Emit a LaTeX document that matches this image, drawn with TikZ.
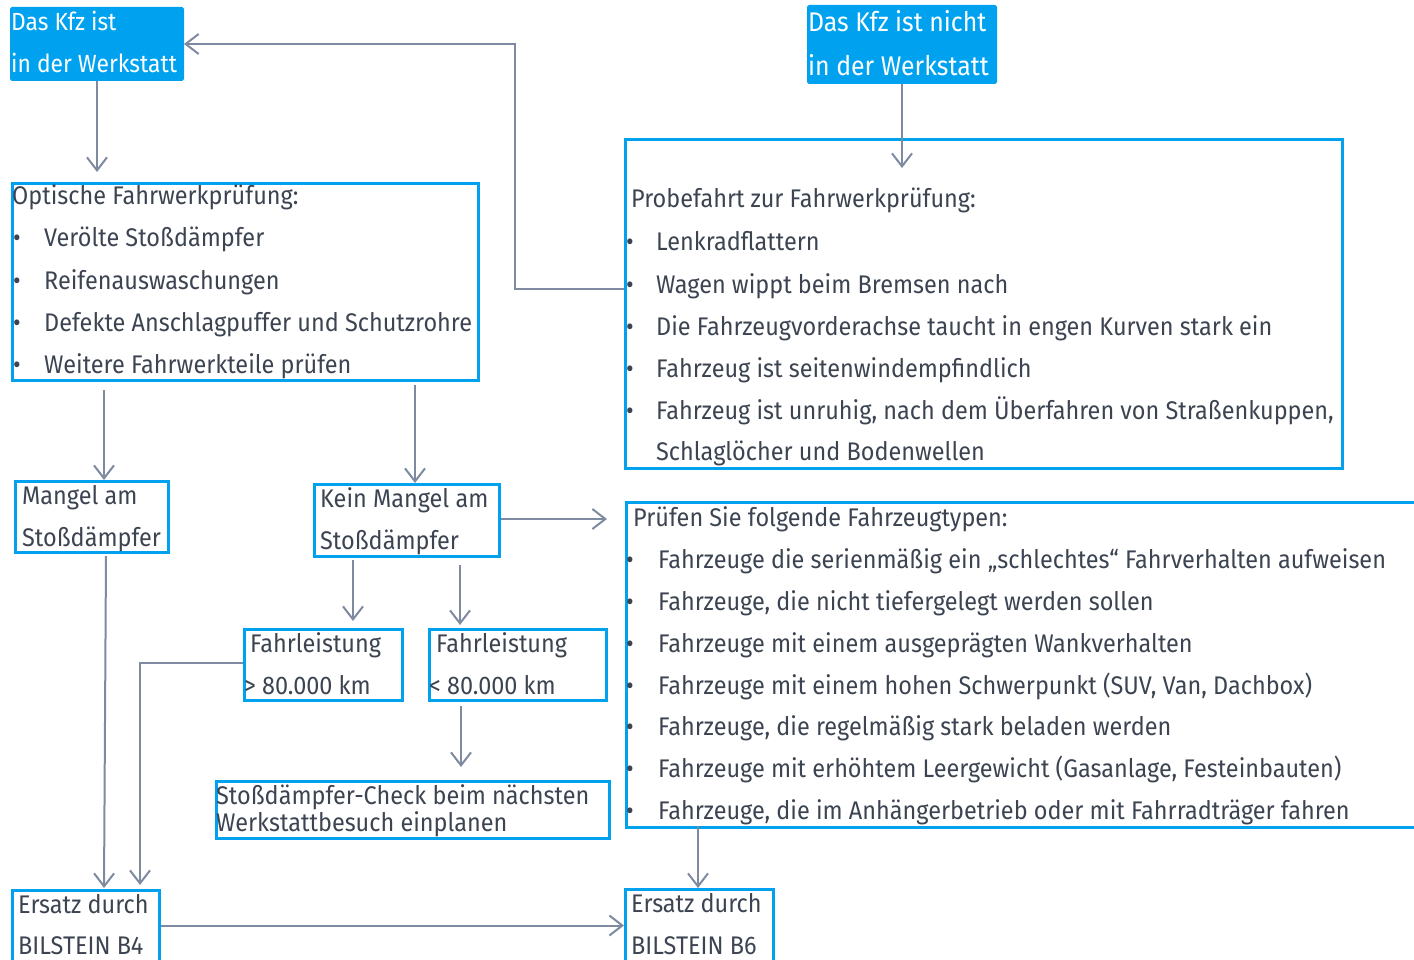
\documentclass[tikz,border=0pt]{standalone}
\usepackage{fontspec}
\setmainfont{Fira Sans}[FakeStretch=0.92]
\usetikzlibrary{arrows.meta,calc}
\definecolor{bblue}{RGB}{0,162,240}
\definecolor{txt}{RGB}{60,68,82}
\definecolor{arrc}{RGB}{125,138,160}
\begin{document}
\begin{tikzpicture}[x=1pt,y=-1pt,
 box/.style={draw=bblue,line width=3pt,inner sep=0pt,anchor=north west},
 fbox/.style={fill=bblue,draw=bblue,line width=1pt,rounded corners=1.5pt,inner sep=0pt,anchor=north west},
 t/.style={anchor=base west,inner sep=0pt,text=txt,font=\fontsize{25.5}{30}\selectfont},
 wt/.style={t,text=white,font=\fontsize{24.8}{30}\selectfont},
 wtl/.style={t,text=white,font=\fontsize{27}{30}\selectfont},
 conn/.style={draw=arrc,line width=2pt,-{Straight Barb[length=13pt,width=20pt,line width=2pt]}}]
\path[use as bounding box] (0,0) rectangle (1414,960);
\clip (0,0) rectangle (1414,960);
% boxes
\node[fbox,minimum width=173pt,minimum height=73pt] (kfzin) at (10,7) {};
\node[fbox,minimum width=189pt,minimum height=78pt] (kfzout) at (807,5) {};
\node[box,minimum width=466pt,minimum height=197pt] (opt) at (11,182) {};
\node[box,minimum width=717pt,minimum height=329pt] (probe) at (624,138) {};
\node[box,minimum width=153pt,minimum height=71pt] (mangel) at (14,480) {};
\node[box,minimum width=185pt,minimum height=72pt] (kein) at (313,483) {};
\node[box,minimum width=820pt,minimum height=325pt] (pruef) at (625,501) {};
\node[box,minimum width=158pt,minimum height=71pt] (fgt) at (243,628) {};
\node[box,minimum width=177pt,minimum height=71pt] (flt) at (428,628) {};
\node[box,minimum width=393pt,minimum height=57pt] (check) at (215,780) {};
\node[box,minimum width=147pt,minimum height=90pt] (b4) at (11,889) {};
\node[box,minimum width=148pt,minimum height=90pt] (b6) at (624,888) {};
% texts
\node[wt] (t1a) at (11,31) {Das Kfz ist};
\node[wt] (t1b) at (11,73) {in der Werkstatt};
\node[wtl] (t2a) at (808,32) {Das Kfz ist nicht};
\node[wtl] (t2b) at (808,76) {in der Werkstatt};
\node[t] (o0) at (12,205) {Optische Fahrwerkprüfung:};
\foreach \y/\s [count=\i] in {247/Verölte Stoßdämpfer,289/Reifenauswaschungen,331/Defekte Anschlagpuffer und Schutzrohre,373/Weitere Fahrwerkteile prüfen}{
  \node[t] (ob\i) at (13,\y) {•};
  \node[t] (o\i) at (44,\y) {\s};
}
\node[t] (p0) at (631,208) {Probefahrt zur Fahrwerkprüfung:};
\foreach \y/\s [count=\i] in {251/Lenkradflattern,293/Wagen wippt beim Bremsen nach,335/Die Fahrzeugvorderachse taucht in engen Kurven stark ein,377/Fahrzeug ist seitenwindempfindlich,419/{Fahrzeug ist unruhig, nach dem Überfahren von Straßenkuppen,}}{
  \node[t] (pb\i) at (626,\y) {•};
  \node[t] (p\i) at (656,\y) {\s};
}
\node[t] (p6) at (656,460) {Schlaglöcher und Bodenwellen};
\node[t] (m1) at (22,504) {Mangel am};
\node[t] (m2) at (22,546) {Stoßdämpfer};
\node[t] (k1) at (320,507) {Kein Mangel am};
\node[t] (k2) at (320,549) {Stoßdämpfer};
\node[t] (q0) at (633,526) {Prüfen Sie folgende Fahrzeugtypen:};
\foreach \y/\s [count=\i] in {568/{Fahrzeuge die serienmäßig ein „schlechtes“ Fahrverhalten aufweisen},610/{Fahrzeuge, die nicht tiefergelegt werden sollen},652/Fahrzeuge mit einem ausgeprägten Wankverhalten,694/{Fahrzeuge mit einem hohen Schwerpunkt (SUV, Van, Dachbox)},735/{Fahrzeuge, die regelmäßig stark beladen werden},777/{Fahrzeuge mit erhöhtem Leergewicht (Gasanlage, Festeinbauten)},819/{Fahrzeuge, die im Anhängerbetrieb oder mit Fahrradträger fahren}}{
  \node[t] (qb\i) at (626,\y) {•};
  \node[t] (q\i) at (658,\y) {\s};
}
\node[t] (f1) at (250,652) {Fahrleistung};
\node[t] (f2) at (244,694) {> 80.000 km};
\node[t] (g1) at (436,652) {Fahrleistung};
\node[t] (g2) at (429,694) {< 80.000 km};
\node[t] (c1) at (216,804) {Stoßdämpfer-Check beim nächsten};
\node[t] (c2) at (216,831) {Werkstattbesuch einplanen};
\node[t] (e1) at (18,913) {Ersatz durch};
\node[t] (e2) at (18,954) {BILSTEIN B4};
\node[t] (e3) at (631,912) {Ersatz durch};
\node[t] (e4) at (631,954) {BILSTEIN B6};
% connectors
\coordinate (back) at (515,289);
\coordinate (oa) at (104,390);
\coordinate (ob) at (415,385);
\coordinate (ka) at (353,560);
\coordinate (kb) at (460,565);
\coordinate (fa) at (461,706);
\coordinate (ma) at (106,556);
\coordinate (mb) at (104,888);
\coordinate (fl) at (140,663);
\coordinate (pa) at (698,826);
\draw[conn] (kfzin.south) -- ([yshift=10pt]kfzin.south |- opt.north);
\draw[conn] (probe.west |- back) -- (back) -- (back |- kfzin.east) -- (kfzin.east);
\draw[conn] (kfzout.south) -- ([yshift=-30pt]kfzout.south |- probe.north);
\draw[conn] (oa) -- (oa |- mangel.north);
\draw[conn] (ob) -- (ob |- kein.north);
\draw[conn] (kein.east |- 0,519) -- (607,519);
\draw[conn] (ka) -- ([yshift=7pt]ka |- fgt.north);
\draw[conn] (kb) -- ([yshift=3pt]kb |- flt.north);
\draw[conn] (fa) -- ([yshift=13pt]fa |- check.north);
\draw[conn] (ma) -- (mb);
\draw[conn] (fgt.west |- fl) -- (fl) -- ([yshift=4pt]fl |- b4.north);
\draw[conn] ([yshift=10pt]b4.east) -- ([yshift=10pt]b4.east -| b6.west);
\draw[conn] (pa) -- (pa |- b6.north);
\end{tikzpicture}
\end{document}
